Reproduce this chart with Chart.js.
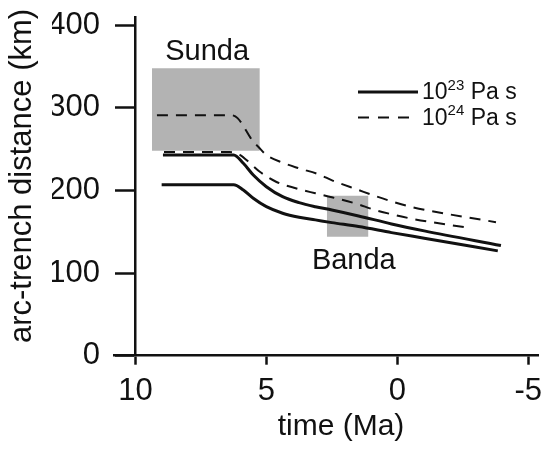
<!DOCTYPE html>
<html>
<head>
<meta charset="utf-8">
<script src="https://cdn.jsdelivr.net/npm/chart.js@4/dist/chart.umd.min.js"></script>
<style>
  html, body { margin:0; padding:0; background:#fff; }
  #wrap { width:549px; height:449px; }
</style>
</head>
<body>
<div id="wrap"><canvas id="arcChart" width="549" height="449"></canvas></div>
<script>
// time in Ma (positive = past), arc-trench distance in km
var t23Low  = [9.0, 6.25, 5.88, 5.5, 5.0, 4.38, 3.75, 3.13, 2.5, 1.48, 0.22, -1.03, -3.84]
var d23Low  = [207, 207, 200.6, 190.6, 180.4, 172.5, 167.6, 164.4, 161.1, 156.3, 149.0, 142.2, 126.9]

var t23High = [8.95, 6.25, 5.88, 5.5, 5.0, 4.38, 3.75, 3.13, 2.5, 1.48, 0.22, -1.03, -3.96]
var d23High = [243, 243, 232.9, 218.7, 204.6, 192.5, 185.3, 180.4, 176.4, 169.2, 159.5, 151.1, 133.3]

var t24Low  = [8.91, 6.4, 6.0, 5.62, 5.25, 4.63, 3.88, 3.13, 2.5, 1.6, 0.85, 0.1, -0.65, -2.84]
var d24Low  = [246.5, 246.5, 242.9, 232.9, 222.7, 210.6, 202.7, 196.6, 191.8, 184.3, 176.4, 170.4, 165.2, 154.3]

var t24High = [9.18, 6.36, 6.1, 5.5, 5.3, 5.0, 4.38, 3.75, 3.0, 2.47, 1.48, 0.85, 0.1, -0.59, -3.77]
var d24High = [291.2, 291.2, 287.6, 259, 252.6, 242.9, 233.6, 226.8, 219.5, 212, 200.6, 193.4, 185.7, 179.7, 161.6]

// shaded boxes: [start, end] time, [bottom, top] distance
var sundaBoxT = [9.37, 5.25]
var sundaBoxD = [248, 348]
var bandaBoxT = [2.69, 1.10]
var bandaBoxD = [144, 193.5]

var regionNames = ['Sunda', 'Banda']
var regionT = [7.26, 1.66]
var regionD = [368, 115]

var xTicks = [10, 5, 0, -5]
var yTicks = [0, 100, 200, 300, 400]
var legendLabels = [['10', '23', ' Pa s'], ['10', '24', ' Pa s']]
var xTitle = 'time (Ma)'
var yTitle = 'arc-trench distance (km)'

var FONT = '"Liberation Sans", Arial, Helvetica, sans-serif'
var INK = '#111'
var BOX = '#b3b3b3'
var DASH = [11, 8]

function pts(t, d) {
    var out = []
    for (var i = 0; i < t.length; i++) out.push({x: t[i], y: d[i]})
    return out
}

function curve(t, d, dashed) {
    return {
        data: pts(t, d),
        borderColor: INK,
        borderWidth: dashed ? 2 : 3,
        borderDash: dashed ? DASH : [],
        pointRadius: 0,
        fill: false,
        cubicInterpolationMode: 'monotone',
        order: 1
    }
}

function box(t, d) {
    return {
        data: pts(t, [d[1], d[1]]),
        borderWidth: 0,
        borderColor: 'rgba(0,0,0,0)',
        backgroundColor: BOX,
        pointRadius: 0,
        fill: {target: {value: d[0]}, above: BOX, below: BOX},
        order: 2
    }
}

var extras = {
    id: 'extras',
    afterDraw: function(chart) {
        var ctx = chart.ctx
        var xs = chart.scales.x, ys = chart.scales.y
        ctx.save()
        ctx.fillStyle = INK
        ctx.textAlign = 'center'
        ctx.textBaseline = 'middle'
        ctx.font = '29px ' + FONT
        for (var i = 0; i < regionNames.length; i++) {
            ctx.fillText(regionNames[i], xs.getPixelForValue(regionT[i]), ys.getPixelForValue(regionD[i]))
        }
        ctx.font = '30px ' + FONT
        ctx.fillText(xTitle, 341, 427)
        ctx.save()
        ctx.translate(22, 176)
        ctx.rotate(-Math.PI / 2)
        ctx.font = '31px ' + FONT
        ctx.fillText(yTitle, 0, 0)
        ctx.restore()

        // legend
        var rows = [92, 117.5]
        ctx.textAlign = 'left'
        ctx.textBaseline = 'alphabetic'
        for (var j = 0; j < legendLabels.length; j++) {
            var y = rows[j]
            ctx.strokeStyle = INK
            ctx.lineWidth = j == 0 ? 3 : 2
            ctx.setLineDash(j == 0 ? [] : [11, 9])
            ctx.beginPath()
            ctx.moveTo(358, y)
            ctx.lineTo(418, y)
            ctx.stroke()
            ctx.setLineDash([])
            var x = 422
            ctx.font = '23px ' + FONT
            ctx.fillText(legendLabels[j][0], x, y + 7)
            x += ctx.measureText(legendLabels[j][0]).width
            ctx.font = '15px ' + FONT
            ctx.fillText(legendLabels[j][1], x, y - 2.5)
            x += ctx.measureText(legendLabels[j][1]).width
            ctx.font = '23px ' + FONT
            ctx.fillText(legendLabels[j][2], x, y + 7)
        }
        ctx.restore()
    }
}

var arcChart = new Chart(document.getElementById('arcChart'), {
    type: 'line',
    data: {
        datasets: [
            curve(t23Low, d23Low, false),
            curve(t23High, d23High, false),
            curve(t24Low, d24Low, true),
            curve(t24High, d24High, true),
            box(sundaBoxT, sundaBoxD),
            box(bandaBoxT, bandaBoxD)
        ]
    },
    options: {
        responsive: false,
        animation: false,
        layout: {padding: {left: 52, right: 2, top: 17, bottom: 30}},
        plugins: {legend: {display: false}, tooltip: {enabled: false}},
        scales: {
            x: {
                type: 'linear',
                reverse: true,
                min: -5.41,
                max: 10.82,
                position: 'bottom',
                border: {display: true, color: INK, width: 2.5},
                grid: {display: true, drawOnChartArea: false, tickLength: 9, tickWidth: 2.5, tickColor: INK},
                ticks: {color: INK, font: {family: FONT, size: 31, lineHeight: 1.3}, padding: 7, maxRotation: 0, autoSkip: false},
                afterBuildTicks: function(axis) {
                    axis.ticks = xTicks.map(function(v) { return {value: v} })
                }
            },
            // y axis line and tick marks, sitting at time = 10 Ma
            y: {
                type: 'linear',
                min: 0,
                max: 410,
                position: {x: 10},
                border: {display: true, color: INK, width: 2.5},
                grid: {display: true, drawOnChartArea: false, tickLength: 19, tickWidth: 2.5, tickColor: INK},
                ticks: {display: false},
                afterBuildTicks: function(axis) {
                    axis.ticks = yTicks.map(function(v) { return {value: v} })
                }
            },
            // y tick labels
            yl: {
                type: 'linear',
                min: 0,
                max: 410,
                position: 'left',
                border: {display: false},
                grid: {display: false},
                ticks: {color: INK, font: {family: FONT, size: 31, lineHeight: 0.6}, padding: 6},
                afterBuildTicks: function(axis) {
                    axis.ticks = yTicks.map(function(v) { return {value: v} })
                },
                afterFit: function(axis) { axis.width = 62 }
            }
        }
    },
    plugins: [extras]
})
</script>
</body>
</html>
